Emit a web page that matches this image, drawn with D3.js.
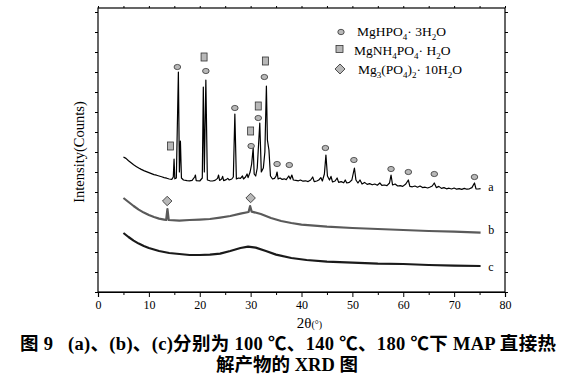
<!DOCTYPE html>
<html><head><meta charset="utf-8">
<script src="https://cdn.jsdelivr.net/npm/d3@7"></script>
<style>body{margin:0;background:#fff}svg{display:block}</style>
</head><body>
<script>
// ---- data (2θ in degrees, intensity in arbitrary counts) ----
const curveA = [[5.0,675],[5.5,668],[6.0,656],[6.5,646],[7.0,636],[7.5,628],[8.0,620],[8.5,613],[9.0,607],[9.5,602],[10.0,597],[10.5,592],[11.0,587],[11.5,584],[12.0,580],[12.5,576],[13.0,572],[13.5,569],[14.0,565],[14.5,563],[14.8,575],[14.95,665],[15.1,566],[15.4,570],[15.8,1100],[16.0,600],[16.2,755],[16.4,570],[16.8,560],[17.5,557],[18.0,556],[18.5,558],[19.0,575],[19.15,585],[19.3,557],[20.0,555],[20.5,570],[20.7,1025],[20.9,600],[21.2,1060],[21.5,560],[22.0,556],[22.5,555],[23.0,558],[23.5,568],[23.7,585],[23.9,558],[24.3,565],[24.5,578],[24.7,557],[25.2,562],[25.5,568],[25.8,560],[26.3,565],[26.6,575],[26.9,890],[27.2,565],[27.6,570],[28.0,568],[28.4,580],[28.6,565],[29.0,575],[29.3,590],[29.5,572],[29.9,600],[30.2,640],[30.5,720],[30.7,590],[31.0,580],[31.3,620],[31.8,845],[32.1,600],[32.5,620],[32.8,700],[33.1,1030],[33.3,760],[33.6,710],[33.9,580],[34.3,565],[34.7,568],[35.0,580],[35.2,600],[35.4,565],[35.8,570],[36.2,563],[36.6,566],[37.0,562],[37.5,580],[37.8,565],[38.1,585],[38.4,560],[38.9,558],[39.4,556],[39.8,560],[40.3,554],[40.8,556],[41.3,552],[41.8,560],[42.2,575],[42.5,552],[43.0,555],[43.4,560],[43.8,572],[44.1,555],[44.5,590],[44.8,685],[45.1,580],[45.5,560],[45.8,578],[46.1,550],[46.6,555],[47.0,570],[47.3,548],[47.8,552],[48.3,546],[48.6,560],[48.9,545],[49.4,548],[49.9,560],[50.4,620],[50.7,560],[51.1,545],[51.5,560],[51.9,540],[52.4,548],[52.9,538],[53.4,542],[53.9,536],[54.4,540],[54.9,534],[55.4,545],[55.8,533],[56.3,535],[56.8,532],[57.3,545],[57.6,585],[57.9,535],[58.4,540],[58.9,530],[59.4,532],[59.9,528],[60.5,540],[61.0,560],[61.3,528],[61.8,526],[62.3,530],[62.8,524],[63.3,530],[63.8,522],[64.3,524],[64.8,520],[65.3,525],[65.7,530],[66.1,545],[66.5,522],[67.0,528],[67.5,518],[68.0,522],[68.5,516],[69.0,519],[69.5,515],[70.0,520],[70.5,514],[71.0,517],[71.5,513],[72.0,518],[72.5,514],[73.0,516],[73.5,522],[74.0,545],[74.3,516],[74.7,515],[75.2,517]];

const curveB = [[5,470],[6,450],[7,430],[8,412],[9,397],[10,385],[11,375],[12,367],[13,362],[13.4,360],[13.65,415],[13.9,360],[16,357],[18,360],[20,362],[22,365],[24,372],[26,380],[28,392],[29.6,400],[29.9,430],[30.2,402],[32,390],[34,370],[36,355],[38,345],[40,337],[45,327],[50,320],[55,315],[60,310],[65,305],[70,302],[75.2,297]];

const curveC = [[5,295],[6,275],[7,257],[8,242],[9,230],[10,220],[12,205],[14,195],[16,190],[18,185],[20,185],[22,187],[24,192],[26,205],[28,220],[29.5,227],[31,222],[33,205],[35,187],[38,170],[41,160],[45,152],[50,147],[55,142],[60,140],[65,135],[70,132],[75.2,130]];

const curveLabels = ["a","b","c"];
const labelLevels = [525, 310, 125];

const circleMarks  = [[15.6,1125],[21.2,1105],[26.9,920],[30.1,730],[31.5,870],[32.7,1075],[35.2,640],[37.6,635],[44.7,720],[50.3,660],[57.6,615],[61.0,600],[66.1,590],[74.0,575]];
const squareMarks  = [[14.25,730],[20.85,1175],[30.0,805],[31.5,930],[32.9,1155]];
const diamondMarks = [[13.6,455],[30.0,470]];

const xTicks = [0,10,20,30,40,50,60,70,80];
const xMinor = [5,15,25,35,45,55,65,75];
const yTicks = d3.range(0, 1401, 100);

// ---- layout ----
const W = 574, H = 382;
const L = 98, R = 505, T = 8, B = 292;
const x = d3.scaleLinear().domain([0,80]).range([L,R]);
const y = d3.scaleLinear().domain([0,1420]).range([B,T]);

const svg = d3.select("body").append("svg").attr("width",W).attr("height",H);
const serif = "'Liberation Serif','Times New Roman',serif";

// frame
svg.append("rect").attr("x",L).attr("y",T).attr("width",R-L).attr("height",B-T)
  .attr("fill","none").attr("stroke","#000").attr("stroke-width",1.2);

// bottom axis
const gx = svg.append("g").attr("transform",`translate(0,${B})`)
  .call(d3.axisBottom(x).tickValues(xTicks).tickSize(5).tickPadding(3).tickFormat(d3.format("d")));
gx.select(".domain").attr("stroke-width",1.2);
gx.selectAll("text").attr("font-family",serif).attr("font-size",12).attr("fill","#000");
gx.append("g").call(d3.axisBottom(x).tickValues(xMinor).tickSize(3).tickFormat(""))
  .select(".domain").remove();
// top minor ticks
const gt = svg.append("g").attr("transform",`translate(0,${T})`)
  .call(d3.axisTop(x).tickValues(xTicks.concat(xMinor)).tickSize(2).tickFormat(""));
gt.select(".domain").remove();
// left / right ticks
const gl = svg.append("g").attr("transform",`translate(${L},0)`)
  .call(d3.axisLeft(y).tickValues(yTicks).tickSize(3).tickFormat(""));
gl.select(".domain").remove();
const gr = svg.append("g").attr("transform",`translate(${R},0)`)
  .call(d3.axisRight(y).tickValues(yTicks).tickSize(3).tickFormat(""));
gr.select(".domain").remove();

// axis titles
const xt = svg.append("text").attr("x",(x(0)+x(80))/2+8).attr("y",328)
  .attr("text-anchor","middle").attr("font-family",serif).attr("fill","#000");
xt.append("tspan").attr("font-size",15).text("2θ");
xt.append("tspan").attr("font-size",10).text("(°)");

svg.append("text").attr("transform",`translate(84,${(T+B)/2+2}) rotate(-90)`)
  .attr("text-anchor","middle").attr("font-family",serif).attr("font-size",14.5)
  .attr("fill","#000").text("Intensity(Counts)");

// curves
const line = d3.line().x(d=>x(d[0])).y(d=>y(d[1]));
svg.append("path").datum(curveC).attr("d",line).attr("fill","none").attr("stroke","#1a1a1a").attr("stroke-width",2.2).attr("stroke-linejoin","round");
svg.append("path").datum(curveB).attr("d",line).attr("fill","none").attr("stroke","#5a5a5a").attr("stroke-width",2.2).attr("stroke-linejoin","round");
svg.append("path").datum(curveA).attr("d",line).attr("fill","none").attr("stroke","#000").attr("stroke-width",1.2).attr("stroke-linejoin","round");

// curve labels
svg.selectAll("text.cl").data(curveLabels).enter().append("text").attr("class","cl")
  .attr("x",x(76.7)).attr("y",(d,i)=>y(labelLevels[i])+4)
  .attr("font-family",serif).attr("font-size",12).attr("fill","#000").text(d=>d);

// markers
const mfill = "#b8b8b8", mstroke = "#333";
svg.selectAll("ellipse.m").data(circleMarks).enter().append("ellipse")
  .attr("cx",d=>x(d[0])).attr("cy",d=>y(d[1])).attr("rx",3.3).attr("ry",2.6)
  .attr("fill",mfill).attr("stroke",mstroke).attr("stroke-width",0.8);
svg.selectAll("rect.m").data(squareMarks).enter().append("rect")
  .attr("x",d=>x(d[0])-3).attr("y",d=>y(d[1])-4).attr("width",6).attr("height",8)
  .attr("fill",mfill).attr("stroke",mstroke).attr("stroke-width",0.8);
svg.selectAll("path.dm").data(diamondMarks).enter().append("path")
  .attr("transform",d=>`translate(${x(d[0])},${y(d[1])}) rotate(45)`)
  .attr("d",d3.symbol().type(d3.symbolSquare).size(45))
  .attr("fill",mfill).attr("stroke",mstroke).attr("stroke-width",0.8);

// legend
const lg = svg.append("g");
lg.append("ellipse").attr("cx",341).attr("cy",32).attr("rx",3.2).attr("ry",2.7)
  .attr("fill",mfill).attr("stroke",mstroke).attr("stroke-width",0.8);
lg.append("rect").attr("x",336).attr("y",45.5).attr("width",7).attr("height",7)
  .attr("fill",mfill).attr("stroke",mstroke).attr("stroke-width",0.8);
lg.append("path").attr("transform","translate(340,69) rotate(45)")
  .attr("d",d3.symbol().type(d3.symbolSquare).size(50))
  .attr("fill",mfill).attr("stroke",mstroke).attr("stroke-width",0.8);

function chem(g, xx, yy, parts){
  const t = g.append("text").attr("x",xx).attr("y",yy).attr("font-family",serif)
    .attr("font-size",13.5).attr("fill","#000");
  parts.forEach(p=>{
    if (p[1]==="sub") t.append("tspan").attr("font-size",9).attr("dy",4).text(p[0]);
    else if (p[1]==="up") t.append("tspan").attr("dy",-4).text(p[0]);
    else t.append("tspan").text(p[0]);
  });
}
chem(lg,357,36,[["MgHPO"],["4","sub"],["·  3H","up"],["2","sub"],["O","up"]]);
chem(lg,354,55,[["MgNH"],["4","sub"],["PO","up"],["4","sub"],["·  H","up"],["2","sub"],["O","up"]]);
chem(lg,358,74,[["Mg"],["3","sub"],["(PO","up"],["4","sub"],[")","up"],["2","sub"],["·  10H","up"],["2","sub"],["O","up"]]);

// caption
const cap = "'Liberation Serif','Noto Sans CJK SC',serif";
svg.append("text").attr("x",20).attr("y",350)
  .attr("font-family",cap).attr("font-weight","bold").attr("font-size",18.5).attr("fill","#000")
  .attr("xml:space","preserve").attr("textLength",536).attr("lengthAdjust","spacing")
  .text("图 9   (a)、(b)、(c)分别为 100 ℃、140 ℃、180 ℃下 MAP 直接热");
svg.append("text").attr("x",287).attr("y",371).attr("text-anchor","middle")
  .attr("font-family",cap).attr("font-weight","bold").attr("font-size",18.5).attr("fill","#000")
  .text("解产物的 XRD 图");
</script>
</body></html>
